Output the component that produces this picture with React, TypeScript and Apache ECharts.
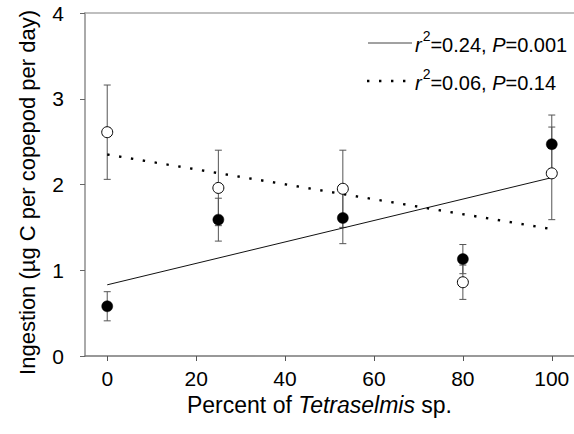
import React, { useEffect, useRef } from "react";
import * as echarts from "echarts";

// Percent of Tetraselmis sp. (x positions of the treatments)
const xPercent = [0, 25, 53, 80, 100];
// Filled circles: mean ingestion and error
const filledMean = [0.58, 1.59, 1.61, 1.13, 2.47];
const filledErr = [0.17, 0.25, 0.3, 0.17, 0.34];
// Open circles: mean ingestion and error
const openMean = [2.61, 1.96, 1.95, 0.86, 2.13];
const openErr = [0.55, 0.44, 0.45, 0.2, 0.54];
// Regression lines (end points)
const solidFit = [
  [0, 0.83],
  [100, 2.08],
];
const dottedFit = [
  [0, 2.35],
  [100, 1.48],
];
const xTicks = [0, 20, 40, 60, 80, 100];

const FONT = "Liberation Sans, Arial, Helvetica, sans-serif";

export default function App() {
  const ref = useRef<HTMLDivElement>(null);
  useEffect(() => {
    if (!ref.current) return;
    const chart = echarts.init(ref.current, undefined, { renderer: "svg" });

    const errData = (means: number[], errs: number[]) =>
      xPercent.map((x, i) => [x, means[i] - errs[i], means[i] + errs[i]]);

    const errRender = (params: any, api: any) => {
      const x = api.value(0);
      const lo = api.coord([x, api.value(1)]);
      const hi = api.coord([x, api.value(2)]);
      const hw = 3.5;
      const st = { stroke: "#555", lineWidth: 1 };
      return {
        type: "group",
        children: [
          { type: "line", shape: { x1: lo[0], y1: lo[1], x2: hi[0], y2: hi[1] }, style: st },
          { type: "line", shape: { x1: lo[0] - hw, y1: lo[1], x2: lo[0] + hw, y2: lo[1] }, style: st },
          { type: "line", shape: { x1: hi[0] - hw, y1: hi[1], x2: hi[0] + hw, y2: hi[1] }, style: st },
        ],
      };
    };

    const rich = {
      i: { fontStyle: "italic", fontSize: 20, fontFamily: FONT, verticalAlign: "bottom", lineHeight: 26, fill: "#000" },
      s: { fontSize: 14, fontFamily: FONT, verticalAlign: "top", lineHeight: 26, fill: "#000", padding: [0, 0, 0, 1] },
      n: { fontSize: 20, fontFamily: FONT, verticalAlign: "bottom", lineHeight: 26, fill: "#000" },
    };

    chart.setOption({
      animation: false,
      backgroundColor: "#fff",
      textStyle: { fontFamily: FONT },
      grid: { left: 85, right: -2, top: 13, bottom: 78, containLabel: false },
      xAxis: [
        {
          type: "value",
          min: -5,
          max: 105,
          name: "{n|Percent of }{i|Tetraselmis}{n| sp.}",
          nameLocation: "middle",
          nameGap: 26,
          nameTextStyle: {
            padding: [0, 20, 0, 0],
            rich: {
              n: { fontSize: 23, fontFamily: FONT, color: "#000" },
              i: { fontSize: 23, fontFamily: FONT, fontStyle: "italic", color: "#000" },
            },
          },
          axisLine: { show: true, onZero: false, lineStyle: { color: "#777", width: 1.5 } },
          axisTick: { show: true, length: 5, lineStyle: { color: "#555" }, customValues: xTicks },
          axisLabel: { fontSize: 21, color: "#000", margin: 12, fontFamily: FONT, customValues: xTicks },
          splitLine: { show: false },
        },
        {
          type: "value",
          position: "top",
          min: -5,
          max: 105,
          axisLine: { show: true, onZero: false, lineStyle: { color: "#aaa", width: 1.5 } },
          axisTick: { show: false },
          axisLabel: { show: false },
          splitLine: { show: false },
        },
      ],
      yAxis: {
        type: "value",
        min: 0,
        max: 4,
        interval: 1,
        name: "Ingestion (µg C per copepod per day)",
        nameLocation: "middle",
        nameGap: 47,
        nameTextStyle: { fontSize: 22, color: "#000", fontFamily: FONT, padding: [0, 16, 0, 0] },
        axisLine: { show: true, onZero: false, lineStyle: { color: "#aaa", width: 2 } },
        axisTick: { show: true, length: 5, lineStyle: { color: "#666" } },
        axisLabel: { fontSize: 21, color: "#000", margin: 21, fontFamily: FONT },
        splitLine: { show: false },
      },
      series: [
        {
          type: "custom",
          renderItem: errRender,
          data: errData(openMean, openErr),
          z: 2,
        },
        {
          type: "custom",
          renderItem: errRender,
          data: errData(filledMean, filledErr),
          z: 2,
        },
        {
          type: "line",
          data: solidFit,
          symbol: "none",
          lineStyle: { color: "#111", width: 1 },
          z: 3,
        },
        {
          type: "line",
          data: dottedFit,
          symbol: "none",
          lineStyle: { color: "#000", width: 2.4, type: [2.4, 9.6], cap: "butt" },
          z: 3,
        },
        {
          type: "scatter",
          data: xPercent.map((x, i) => [x, openMean[i]]),
          symbol: "circle",
          symbolSize: 11,
          itemStyle: { color: "#fff", borderColor: "#000", borderWidth: 1, opacity: 1 },
          z: 5,
        },
        {
          type: "scatter",
          data: xPercent.map((x, i) => [x, filledMean[i]]),
          symbol: "circle",
          symbolSize: 11,
          itemStyle: { color: "#000", borderColor: "#000", borderWidth: 0.5, opacity: 1 },
          z: 5,
        },
      ],
      graphic: [
        {
          type: "line",
          shape: { x1: 368, y1: 43, x2: 412, y2: 43 },
          style: { stroke: "#444", lineWidth: 1 },
        },
        {
          type: "text",
          x: 415,
          y: 42,
          style: {
            text: "{i|r}{s|2}{n|=0.24, }{i|P}{n|=0.001}",
            rich,
            verticalAlign: "middle",
          },
        },
        {
          type: "line",
          shape: { x1: 367, y1: 81, x2: 407, y2: 81 },
          style: { stroke: "#000", lineWidth: 2.4, lineDash: [2.4, 9.6] },
        },
        {
          type: "text",
          x: 415,
          y: 80,
          style: {
            text: "{i|r}{s|2}{n|=0.06, }{i|P}{n|=0.14}",
            rich,
            verticalAlign: "middle",
          },
        },
      ],
    });
    return () => chart.dispose();
  }, []);
  return (
    <div
      ref={ref}
      style={{ position: "fixed", left: 0, top: 0, width: 574, height: 434 }}
    />
  );
}
